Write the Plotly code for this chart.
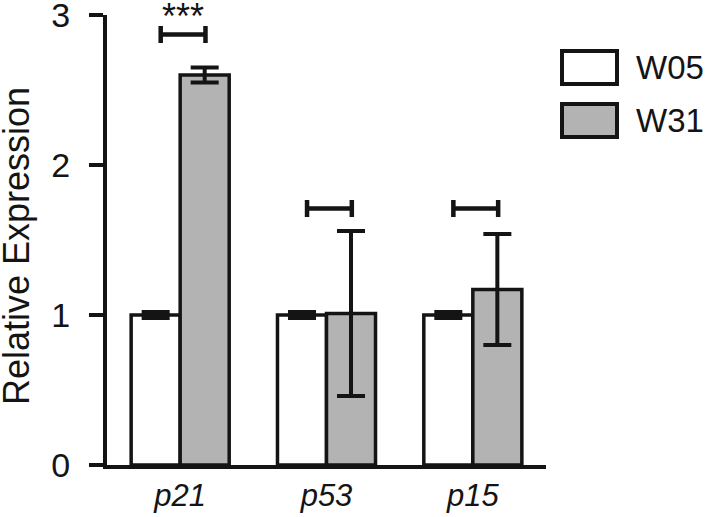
import plotly.graph_objects as go

# ---- data ----
genes = ["p21", "p53", "p15"]
gene_labels = ["<i>p21</i>", "<i>p53</i>", "<i>p15</i>"]
w05_values = [1.0, 1.0, 1.0]
w05_errors = [0.02, 0.02, 0.02]
w31_values = [2.60, 1.01, 1.17]
w31_errors = [0.05, 0.55, 0.37]
bracket_y = [2.87, 1.71, 1.71]
sig_labels = ["***", "", ""]
series_names = ["W05", "W31"]
series_colors = ["#ffffff", "#b3b3b3"]
y_ticks = [0, 1, 2, 3]

INK = "#141414"
FONT = "Liberation Sans, Arial, sans-serif"

W, H = 708, 517
L, R, T, B = 107, 162, 15, 52
PW, PH = W - L - R, H - T - B


def px_x(p):
    return (p - L) / PW


def px_y(p):
    return (H - B - p) / PH


fig = go.Figure()
fig.add_trace(go.Bar(
    x=list(range(len(genes))), y=w05_values, name=series_names[0],
    marker=dict(color=series_colors[0], line=dict(color=INK, width=3.5)),
    error_y=dict(type="data", array=w05_errors, color=INK, thickness=4, width=14),
    showlegend=False,
))
fig.add_trace(go.Bar(
    x=list(range(len(genes))), y=w31_values, name=series_names[1],
    marker=dict(color=series_colors[1], line=dict(color=INK, width=3.5)),
    error_y=dict(type="data", array=w31_errors, color=INK, thickness=4, width=14),
    showlegend=False,
))

# significance brackets drawn as horizontal error bars around group centres
bracket_shift = 0.02
bracket_half = 0.153
fig.add_trace(go.Scatter(
    x=[i + bracket_shift for i in range(len(genes))], y=bracket_y,
    mode="markers", marker=dict(size=1, color="rgba(0,0,0,0)"),
    error_x=dict(type="constant", value=bracket_half, color=INK, thickness=4.5, width=8.5),
    showlegend=False, hoverinfo="skip",
))

for i, s in enumerate(sig_labels):
    if s:
        fig.add_annotation(x=i + bracket_shift, y=3.0, xref="x", yref="y", text=s,
                           showarrow=False, yanchor="middle", yshift=-1,
                           font=dict(size=36, color=INK, family=FONT))

# y-axis title
fig.add_annotation(xref="paper", yref="paper", x=px_x(16), y=px_y(246),
                   text="Relative Expression", textangle=-90, showarrow=False,
                   xanchor="center", yanchor="middle",
                   font=dict(size=36, color=INK, family=FONT))

# legend drawn manually (large boxes)
legend_tops = [51, 104]
for top, color, name in zip(legend_tops, series_colors, series_names):
    bot = top + 33
    fig.add_shape(type="rect", xref="paper", yref="paper",
                  x0=px_x(562), x1=px_x(617), y0=px_y(bot), y1=px_y(top),
                  fillcolor=color, line=dict(color=INK, width=4))
    fig.add_annotation(xref="paper", yref="paper", x=px_x(634),
                       y=px_y((top + bot) / 2), text=name, showarrow=False,
                       xanchor="left", yanchor="middle",
                       font=dict(size=33, color=INK, family=FONT))

fig.update_layout(
    width=W, height=H,
    margin=dict(l=L, r=R, t=T, b=B),
    paper_bgcolor="white", plot_bgcolor="white",
    barmode="group", bargap=0.33, bargroupgap=0,
    font=dict(family=FONT, color=INK),
    showlegend=False,
)
fig.update_xaxes(
    range=[-0.5, 2.5], tickvals=list(range(len(genes))), ticktext=gene_labels,
    showline=True, linecolor=INK, linewidth=4, ticks="", showgrid=False, zeroline=False,
    tickfont=dict(size=31, color=INK, family=FONT), automargin=False,
)
fig.update_yaxes(
    range=[0, 3], tickvals=y_ticks, showline=True, linecolor=INK, linewidth=4,
    ticks="outside", ticklen=14, tickwidth=4, tickcolor=INK, showgrid=False, zeroline=False,
    tickfont=dict(size=34, color=INK, family=FONT), ticklabelstandoff=12,
    ticklabeloverflow="allow", automargin=False,
)

fig.write_html("out.html", config={"displayModeBar": False},
               post_script="document.body.style.margin='0';")
